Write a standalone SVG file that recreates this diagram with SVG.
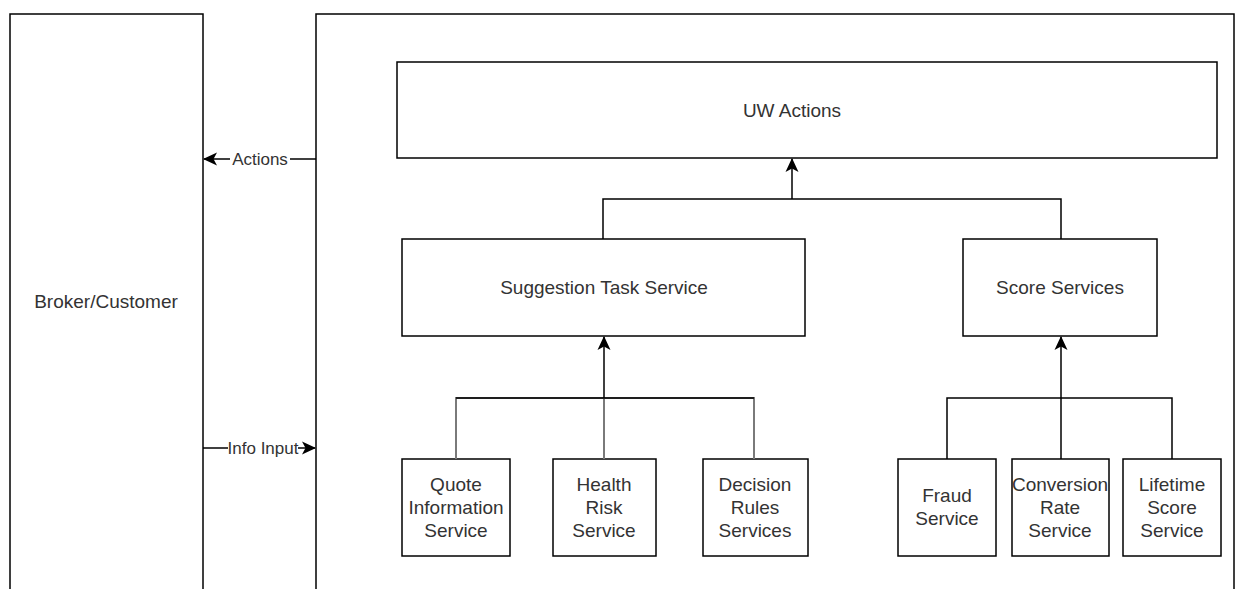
<svg xmlns="http://www.w3.org/2000/svg" width="1236" height="589" viewBox="0 0 1236 589">
<style>
.box{fill:#fff;stroke:#000;stroke-width:1.5}
.t{font-family:"Liberation Sans",Arial,sans-serif;font-size:19px;fill:#333;text-anchor:middle}
.e{font-size:17px}
.c{fill:none;stroke:#000;stroke-width:1.5}
.g{fill:none;stroke:#7a7a7a;stroke-width:2}
</style>
<defs>
<marker id="ah" markerUnits="userSpaceOnUse" markerWidth="14" markerHeight="14" viewBox="0 0 14 14" refX="13" refY="7" orient="auto">
<path d="M0,0.5 L14,7 L0,13.5 L3.5,7 Z" fill="#000"/>
</marker>
</defs>
<rect width="1236" height="589" fill="#fff"/>
<g id="broker"><rect class="box" x="10" y="14" width="193" height="600"/><text class="t" x="106" y="308">Broker/Customer</text></g>
<g id="system"><rect class="box" x="316" y="14" width="918" height="600"/></g>
<g id="uw"><rect class="box" x="397" y="62" width="820" height="96"/><text class="t" x="792" y="117">UW Actions</text></g>
<g id="suggestion"><rect class="box" x="402" y="239" width="403" height="97"/><text class="t" x="604" y="294">Suggestion Task Service</text></g>
<g id="score"><rect class="box" x="963" y="239" width="194" height="97"/><text class="t" x="1060" y="294">Score Services</text></g>
<g id="quote"><rect class="box" x="402" y="459" width="108" height="97"/><text class="t" x="456" y="491">Quote</text><text class="t" x="456" y="514">Information</text><text class="t" x="456" y="537">Service</text></g>
<g id="health"><rect class="box" x="553" y="459" width="103" height="97"/><text class="t" x="604" y="491">Health</text><text class="t" x="604" y="514">Risk</text><text class="t" x="604" y="537">Service</text></g>
<g id="decision"><rect class="box" x="703" y="459" width="105" height="97"/><text class="t" x="755" y="491">Decision</text><text class="t" x="755" y="514">Rules</text><text class="t" x="755" y="537">Services</text></g>
<g id="fraud"><rect class="box" x="898" y="459" width="98" height="97"/><text class="t" x="947" y="502">Fraud</text><text class="t" x="947" y="525">Service</text></g>
<g id="conversion"><rect class="box" x="1012" y="459" width="97" height="97"/><text class="t" x="1060" y="491">Conversion</text><text class="t" x="1060" y="514">Rate</text><text class="t" x="1060" y="537">Service</text></g>
<g id="lifetime"><rect class="box" x="1123" y="459" width="98" height="97"/><text class="t" x="1172" y="491">Lifetime</text><text class="t" x="1172" y="514">Score</text><text class="t" x="1172" y="537">Service</text></g>
<g id="connectors">
<path class="c" d="M603 239 V199 H1061 V239"/>
<path class="c" d="M792 199 V159" marker-end="url(#ah)"/>
<path class="g" d="M456 459 V398 H754 V459"/>
<path class="g" d="M604 459 V398"/>
<path class="c" d="M456 398 H754"/>
<path class="c" d="M604 398 V337" marker-end="url(#ah)"/>
<path class="c" d="M947 459 V398 H1172 V459"/>
<path class="c" d="M1061 459 V337" marker-end="url(#ah)"/>
<path class="c" d="M316 159 H204" marker-end="url(#ah)"/>
<rect x="230" y="150" width="60" height="18" fill="#fff"/>
<text class="t e" x="260" y="165">Actions</text>
<path class="c" d="M203 448 H315" marker-end="url(#ah)"/>
<rect x="228" y="439" width="70" height="18" fill="#fff"/>
<text class="t e" x="263" y="454">Info Input</text>
</g>
</svg>
